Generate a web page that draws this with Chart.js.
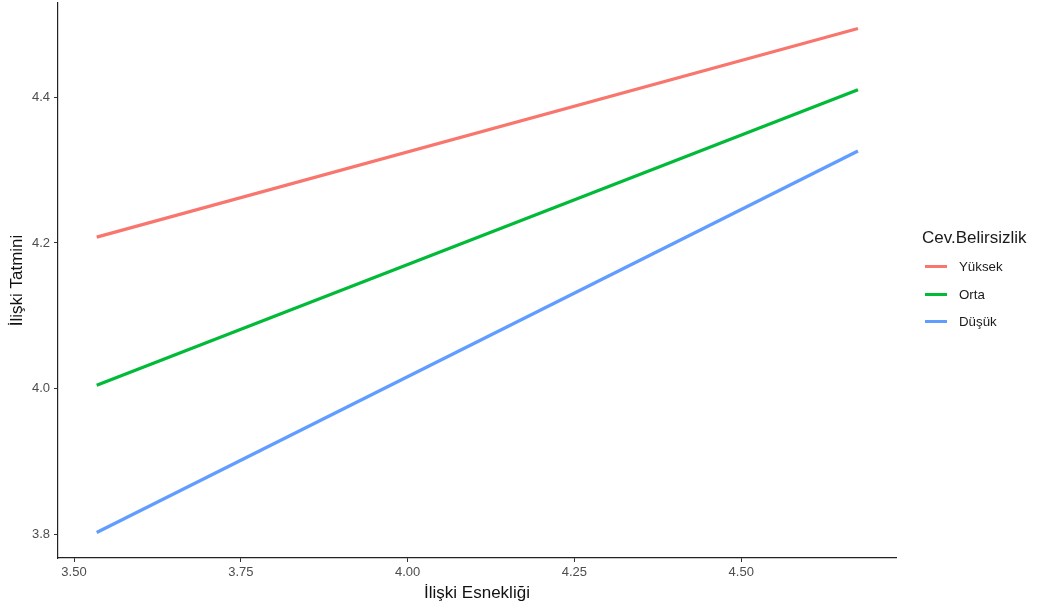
<!DOCTYPE html>
<html>
<head>
<meta charset="utf-8">
<script src="https://cdn.jsdelivr.net/npm/chart.js@4"></script>
<style>
  html, body { margin: 0; padding: 0; background: #fff; }
  #wrap { position: relative; width: 1037px; height: 608px; font-family: "Liberation Sans", Arial, sans-serif; }
  #legend { position: absolute; left: 922px; top: 227px; color: #1a1a1a; }
  #legend .title { font-size: 17px; line-height: 22px; margin-bottom: 4px; }
  #legend .item { display: flex; align-items: center; height: 27.5px; font-size: 13.3px; }
  #legend .swatch { width: 22px; height: 3px; margin: 0 12px 0 3px; }
</style>
</head>
<body>
<div id="wrap">
  <canvas id="chart" width="1037" height="608"></canvas>
  <div id="legend"></div>
</div>
<script>
const legendTitle = "Cev.Belirsizlik";
const seriesNames = ["Yüksek", "Orta", "Düşük"];
const seriesColors = ["#F8766D", "#00BA38", "#619CFF"];
const xValues = [3.534, 4.675];
const yuksek = [4.208, 4.494];
const orta = [4.005, 4.410];
const dusuk = [3.803, 4.326];
const xTicks = [3.50, 3.75, 4.00, 4.25, 4.50];
const yTicks = [3.8, 4.0, 4.2, 4.4];

const seriesValues = [yuksek, orta, dusuk];

const datasets = seriesNames.map((name, i) => ({
    label: name,
    data: xValues.map((x, j) => ({ x: x, y: seriesValues[i][j] })),
    borderColor: seriesColors[i],
    backgroundColor: seriesColors[i],
    borderWidth: 3.2,
    pointRadius: 0,
    fill: false
}));

Chart.defaults.font.family = '"Liberation Sans", Arial, sans-serif';

new Chart(document.getElementById("chart"), {
    type: "line",
    data: { datasets: datasets },
    options: {
        responsive: false,
        animation: false,
        layout: { padding: { left: 0, top: 3, right: 141, bottom: 0 } },
        plugins: { legend: { display: false }, tooltip: { enabled: false } },
        scales: {
            x: {
                type: "linear",
                min: 3.476,
                max: 4.732,
                afterBuildTicks: s => { s.ticks = xTicks.map(v => ({ value: v })); },
                afterFit: s => { s.height = 50; s.paddingLeft = 0; s.paddingRight = 0; },
                grid: { display: true, drawOnChartArea: false, drawTicks: true, tickLength: 4, color: "#333", lineWidth: 1 },
                border: { display: true, color: "#222", width: 1.2 },
                ticks: { color: "#4d4d4d", font: { size: 13 }, padding: 3, callback: v => v.toFixed(2) },
                title: { display: true, text: "İlişki Esnekliği", color: "#111", font: { size: 17 }, padding: { top: 2, bottom: 4 } }
            },
            y: {
                type: "linear",
                min: 3.768,
                max: 4.529,
                afterBuildTicks: s => { s.ticks = yTicks.map(v => ({ value: v })); },
                afterFit: s => { s.width = 58; s.paddingTop = 0; s.paddingBottom = 0; },
                grid: { display: true, drawOnChartArea: false, drawTicks: true, tickLength: 4, color: "#333", lineWidth: 1 },
                border: { display: true, color: "#222", width: 1.2 },
                ticks: { color: "#4d4d4d", font: { size: 13 }, padding: 4, callback: v => v.toFixed(1) },
                title: { display: true, text: "İlişki Tatmini", color: "#111", font: { size: 17 }, padding: { top: 7, bottom: 4 } }
            }
        }
    }
});

const legend = document.getElementById("legend");
const t = document.createElement("div");
t.className = "title";
t.innerText = legendTitle;
legend.appendChild(t);
seriesNames.forEach((name, i) => {
    const row = document.createElement("div");
    row.className = "item";
    const sw = document.createElement("span");
    sw.className = "swatch";
    sw.style.background = seriesColors[i];
    const lab = document.createElement("span");
    lab.innerText = name;
    row.appendChild(sw);
    row.appendChild(lab);
    legend.appendChild(row);
});
</script>
</body>
</html>
